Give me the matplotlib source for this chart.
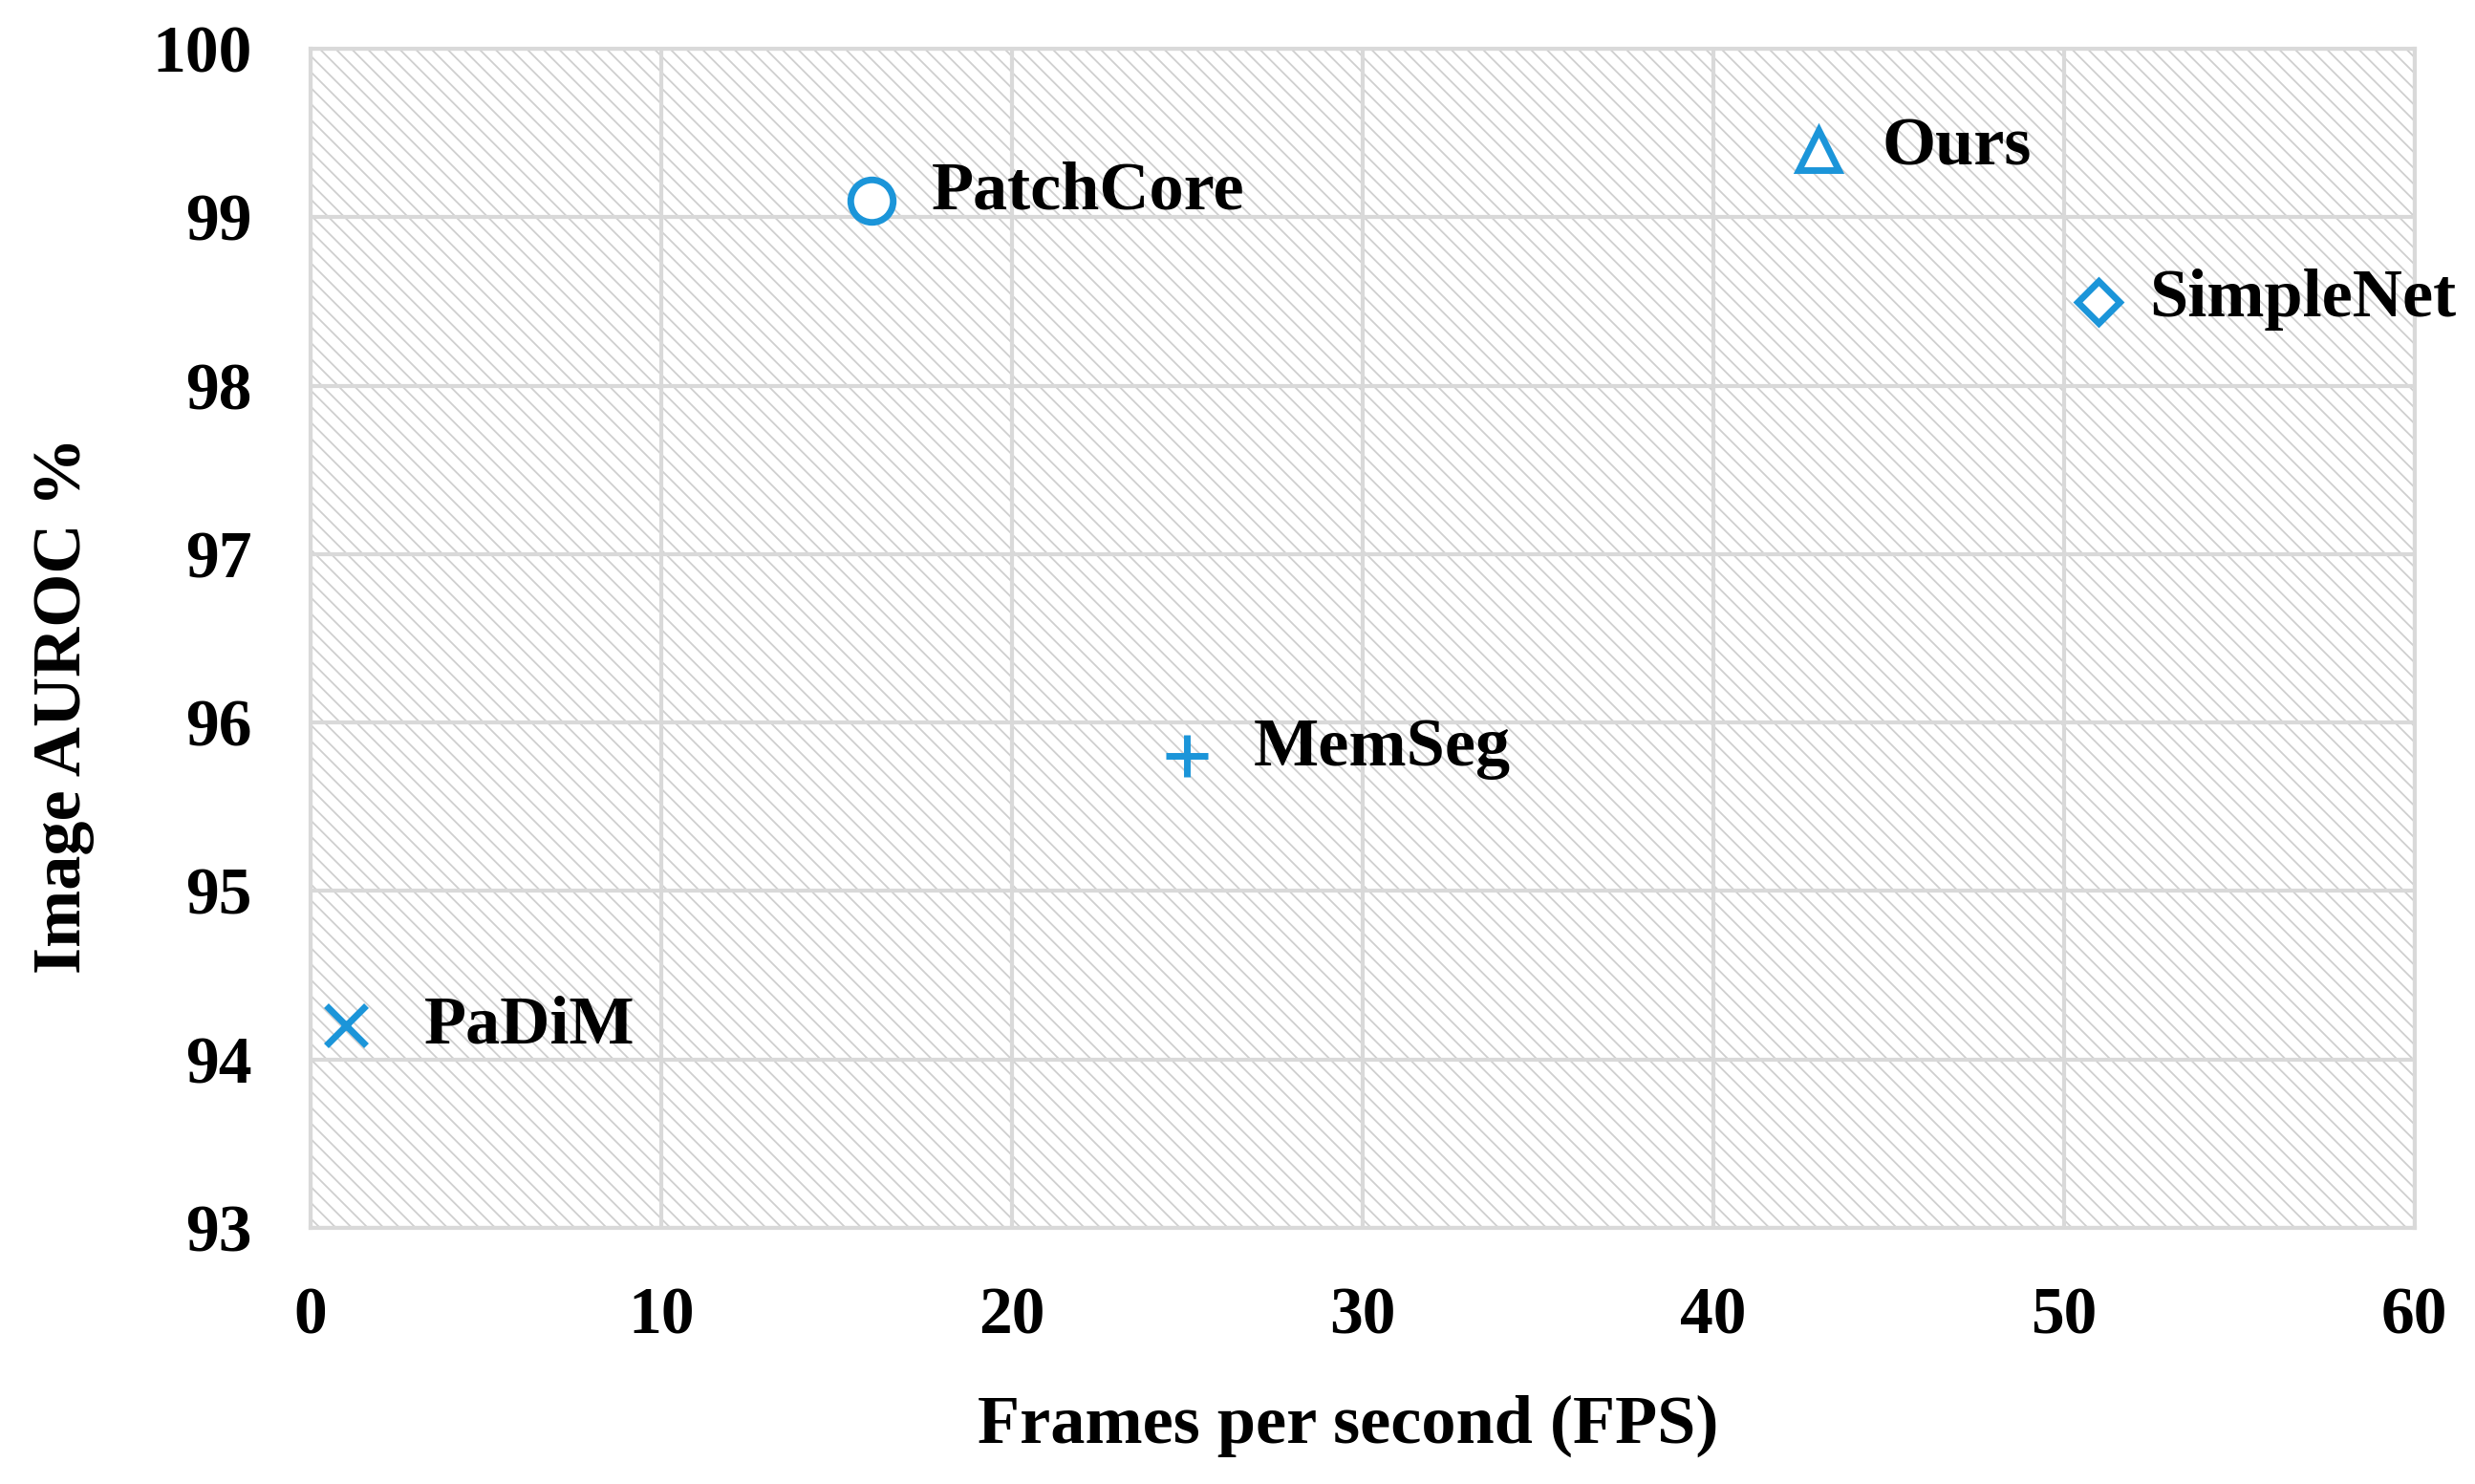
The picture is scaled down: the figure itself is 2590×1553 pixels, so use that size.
import matplotlib
matplotlib.use("Agg")
import matplotlib.pyplot as plt
from matplotlib.patches import Rectangle

# Data
methods = ["PaDiM", "PatchCore", "MemSeg", "Ours", "SimpleNet"]
fps = [1, 16, 25, 43, 51]
auroc = [94.2, 99.1, 95.8, 99.4, 98.5]
x_ticks = [0, 10, 20, 30, 40, 50, 60]
y_ticks = [93, 94, 95, 96, 97, 98, 99, 100]

# Styling per point (marker, label offset in points)
markers = ["x", "o", "+", "^", "D"]
marker_sizes = [30, 32, 32, 30, 22]
label_offsets = [(59, -13), (45, -6), (50, -7), (48, -11), (38, -11)]

BLUE = "#1b95d9"
GRID = "#d9d9d9"

plt.rcParams["font.family"] = ["Liberation Serif", "DejaVu Serif"]
plt.rcParams["font.weight"] = "bold"
plt.rcParams["hatch.linewidth"] = 1.3

fig = plt.figure(figsize=(25.9, 15.53), dpi=100)
ax = fig.add_axes([0.1255, 0.1726, 0.85, 0.7944])

# hatched plot background
bg = Rectangle((0, 0), 1, 1, transform=ax.transAxes, facecolor="white",
               edgecolor="#cfcfcf", hatch="\\\\", linewidth=0, zorder=0)
ax.add_patch(bg)

for x, y, name, m, ms, off in zip(fps, auroc, methods, markers, marker_sizes, label_offsets):
    filled = m in ("x", "+")
    ax.plot(x, y, marker=m, markersize=ms, linestyle="none",
            markerfacecolor="white" if not filled else BLUE,
            markeredgecolor=BLUE, markeredgewidth=5, zorder=3)
    ax.annotate(name, (x, y), xytext=off, textcoords="offset points",
                ha="left", va="baseline", fontsize=52, fontweight="bold", zorder=4)

ax.set_xlim(0, 60)
ax.set_ylim(93, 100)
ax.set_xticks(x_ticks)
ax.set_yticks(y_ticks)
ax.tick_params(axis="both", length=0, labelsize=50, pad=44)
for lab in ax.get_xticklabels() + ax.get_yticklabels():
    lab.set_fontweight("bold")

ax.set_axisbelow(True)
ax.grid(True, color=GRID, linewidth=3)
for sp in ax.spines.values():
    sp.set_color(GRID)
    sp.set_linewidth(3)

ax.set_xlabel("Frames per second (FPS)", fontsize=52, fontweight="bold")
ax.set_ylabel("Image AUROC %", fontsize=52, fontweight="bold")
ax.xaxis.set_label_coords(0.493, -0.168)
ax.yaxis.set_label_coords(-0.1176, 0.443)
ax.xaxis.label.set_va("center")
ax.yaxis.label.set_va("center")

fig.savefig("out.png", dpi=100)
